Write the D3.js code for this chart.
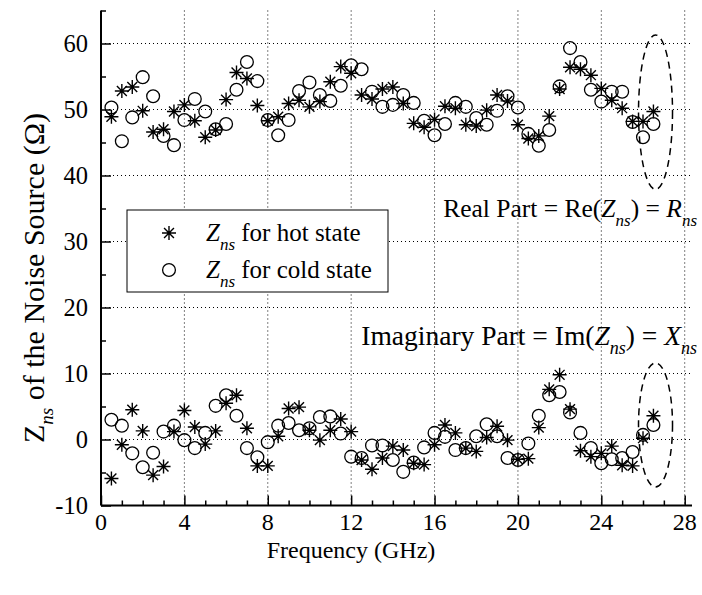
<!DOCTYPE html>
<html>
<head>
  <title>Noise Source Impedance</title>
  <style>
    body {
      margin: 0;
      background: #fff;
    }
    svg text {
      font-family: "Liberation Serif", "Times New Roman", serif;
      fill: #000;
    }
  </style>
</head>
<body>
  <svg id="chart"></svg>

  <script src="https://d3js.org/d3.v7.min.js"></script>
  <script>
    // Frequencies (GHz)
    const freqs = [
      0.5, 1, 1.5, 2, 2.5, 3, 3.5, 4, 4.5, 5, 5.5, 6, 6.5, 7, 7.5, 8, 8.5, 9,
      9.5, 10, 10.5, 11, 11.5, 12, 12.5, 13, 13.5, 14, 14.5, 15, 15.5, 16, 16.5,
      17, 17.5, 18, 18.5, 19, 19.5, 20, 20.5, 21, 21.5, 22, 22.5, 23, 23.5, 24,
      24.5, 25, 25.5, 26, 26.5
    ];

    // Real part, hot state (stars)
    const hotReal = [
      48.9, 52.8, 53.4, 49.8, 46.6, 47.0, 49.7, 50.7, 48.3, 45.8, 46.9, 51.5, 55.6,
      54.7, 50.6, 48.3, 48.9, 50.9, 51.4, 50.4, 51.2, 54.2, 56.5, 55.5, 52.2, 51.6,
      53.1, 53.4, 50.9, 47.9, 47.3, 48.5, 50.5, 50.2, 47.7, 47.5, 49.9, 52.2, 51.3,
      47.7, 45.6, 46.0, 49.0, 53.1, 56.4, 56.1, 55.2, 53.2, 51.4, 50.2, 48.2, 48.2,
      49.7
    ];

    // Real part, cold state (circles)
    const coldReal = [
      50.3, 45.2, 48.8, 54.9, 52.0, 46.0, 44.6, 48.4, 51.6, 49.7, 47.0, 47.8, 53.0,
      57.2, 54.3, 48.4, 46.1, 48.4, 52.8, 54.1, 52.2, 51.3, 53.6, 56.7, 56.1, 52.7,
      50.4, 50.7, 52.2, 51.0, 48.3, 46.1, 47.8, 51.0, 50.4, 48.7, 47.7, 49.8, 52.0,
      50.3, 46.3, 44.5, 46.9, 53.5, 59.3, 57.2, 53.0, 51.2, 52.7, 52.7, 48.1, 45.8,
      47.8
    ];

    // Imaginary part, hot state
    const hotImag = [
      -5.9, -0.8, 4.5, 1.3, -5.4, -4.1, 1.2, 4.4, 1.9, -0.7, 1.3, 5.5, 6.7, 1.7,
      -4.0, -4.0, 0.5, 4.7, 4.9, 1.4, -0.1, 1.4, 3.1, 1.2, -3.1, -4.5, -2.8, -1.0,
      -1.6, -3.6, -3.8, -0.8, 2.2, 1.0, -1.3, -1.8, 0.3, 2.0, -0.1, -3.0, -2.9, 1.8,
      7.6, 9.8, 4.6, -1.7, -2.6, -2.1, -1.0, -3.9, -4.0, 0.2, 3.6
    ];

    // Imaginary part, cold state
    const coldImag = [
      3.0, 2.1, -2.1, -4.2, -2.0, 1.2, 2.1, -0.1, -1.3, 1.0, 5.1, 6.7, 3.6, -1.3,
      -2.7, -0.4, 2.1, 2.5, 1.4, 1.7, 3.4, 3.5, 0.9, -2.6, -2.8, -0.9, -0.9, -3.1,
      -4.9, -3.5, -1.2, 1.0, 0.4, -1.6, -1.3, 0.5, 2.3, 0.5, -2.8, -3.1, -0.6, 3.6,
      6.7, 7.2, 4.1, 1.0, -1.3, -3.6, -3.0, -2.8, -1.9, 0.7, 2.2
    ];

    const xTicks = [0, 4, 8, 12, 16, 20, 24, 28];
    const yTicks = [-10, 0, 10, 20, 30, 40, 50, 60];

    // dashed ellipses around the last points: [centre freq, centre value, half height]
    const highlights = [[26.6, 49.6, 11.7], [26.6, 2.2, 9.4]];

    const width = 702;
    const height = 595;

    const svg = d3.select("#chart")
      .attr("width", width)
      .attr("height", height);

    const x = d3.scaleLinear().domain([0, 28.35]).range([101, 692]);
    const y = d3.scaleLinear().domain([-10, 65]).range([505.5, 10.5]);

    // grid
    const grid = svg.append("g")
      .attr("stroke", "#000")
      .attr("stroke-width", 1)
      .attr("stroke-dasharray", "1,3");

    grid.selectAll("line.h")
      .data(yTicks.filter((d) => d > -10))
      .join("line")
      .attr("x1", x(0)).attr("x2", x.range()[1])
      .attr("y1", (d) => y(d)).attr("y2", (d) => y(d));

    grid.selectAll("line.v")
      .data(xTicks.filter((d) => d > 0))
      .join("line")
      .attr("class", "v")
      .attr("y1", y.range()[1]).attr("y2", y(-10))
      .attr("x1", (d) => x(d)).attr("x2", (d) => x(d));

    // axes with inward ticks
    const xAxis = svg.append("g")
      .attr("transform", `translate(0,${y(-10)})`)
      .call(d3.axisBottom(x).tickValues(d3.range(0, 29, 1)).tickSize(-5).tickFormat(""));
    xAxis.selectAll(".tick line")
      .attr("y2", (d) => (d % 4 === 0 ? -10 : -5))
      .attr("stroke-width", 1.5);
    xAxis.select(".domain").attr("stroke-width", 2).attr("d", `M${x(0)},0H${x.range()[1]}`);

    svg.append("g")
      .selectAll("text")
      .data(xTicks)
      .join("text")
      .attr("x", (d) => x(d))
      .attr("y", 530)
      .attr("text-anchor", "middle")
      .attr("font-size", 24)
      .text((d) => d);

    const yAxis = svg.append("g")
      .attr("transform", `translate(${x(0)},0)`)
      .call(d3.axisLeft(y).tickValues(d3.range(-10, 66, 5)).tickSize(-5).tickFormat(""));
    yAxis.selectAll(".tick line")
      .attr("x2", (d) => (d % 10 === 0 ? 10 : 5))
      .attr("stroke-width", 1.5);
    yAxis.select(".domain").attr("stroke-width", 2).attr("d", `M0,${y(-10)}V${y(65)}`);

    svg.append("g")
      .selectAll("text")
      .data(yTicks)
      .join("text")
      .attr("x", 88)
      .attr("y", (d) => y(d) + 8)
      .attr("text-anchor", "end")
      .attr("font-size", 24.5)
      .text((d) => d);

    // axis titles
    svg.append("text")
      .attr("x", 351)
      .attr("y", 558)
      .attr("text-anchor", "middle")
      .attr("font-size", 24)
      .text("Frequency (GHz)");

    const yTitle = svg.append("text")
      .attr("transform", "translate(44,278) rotate(-90)")
      .attr("text-anchor", "middle")
      .attr("font-size", 30);
    yTitle.append("tspan").text("Z");
    yTitle.append("tspan").attr("dy", 9).attr("font-size", 19).attr("font-style", "italic").text("ns");
    yTitle.append("tspan").attr("dy", -9).text(" of the Noise Source (\u03A9)");

    // markers
    const starPath = (r) => {
      const d = r * Math.SQRT1_2;
      return `M${-r},0H${r}M0,${-r}V${r}M${-d},${-d}L${d},${d}M${-d},${d}L${d},${-d}`;
    };

    const drawStars = (vals) => {
      svg.append("g")
        .selectAll("path")
        .data(vals)
        .join("path")
        .attr("transform", (d, i) => `translate(${x(freqs[i])},${y(d)})`)
        .attr("d", starPath(7))
        .attr("stroke", "#000")
        .attr("stroke-width", 1.4)
        .attr("fill", "none");
    };

    const drawCircles = (vals) => {
      svg.append("g")
        .selectAll("circle")
        .data(vals)
        .join("circle")
        .attr("cx", (d, i) => x(freqs[i]))
        .attr("cy", (d) => y(d))
        .attr("r", 6.4)
        .attr("stroke", "#000")
        .attr("stroke-width", 1.3)
        .attr("fill", "none");
    };

    drawStars(hotReal);
    drawCircles(coldReal);
    drawStars(hotImag);
    drawCircles(coldImag);

    // dashed ellipses
    svg.append("g")
      .selectAll("ellipse")
      .data(highlights)
      .join("ellipse")
      .attr("cx", (d) => x(d[0]))
      .attr("cy", (d) => y(d[1]))
      .attr("rx", 17)
      .attr("ry", (d) => y(0) - y(d[2]))
      .attr("fill", "none")
      .attr("stroke", "#000")
      .attr("stroke-width", 1.5)
      .attr("stroke-dasharray", "7,5");

    // legend
    const legend = svg.append("g");
    legend.append("rect")
      .attr("x", 127).attr("y", 210)
      .attr("width", 261).attr("height", 82)
      .attr("fill", "#fff")
      .attr("stroke", "#000")
      .attr("stroke-width", 1);

    legend.append("path")
      .attr("transform", "translate(169,233)")
      .attr("d", starPath(7))
      .attr("stroke", "#000").attr("stroke-width", 1.4).attr("fill", "none");
    legend.append("circle")
      .attr("cx", 169).attr("cy", 270).attr("r", 6.4)
      .attr("stroke", "#000").attr("stroke-width", 1.3).attr("fill", "none");

    const subText = (sel, parts, subSize) => {
      parts.forEach(([t, style]) => {
        const ts = sel.append("tspan").text(t);
        if (style === "i") ts.attr("font-style", "italic");
        if (style === "sub") ts.attr("font-style", "italic").attr("font-size", subSize).attr("dy", 9);
        if (style === "after") ts.attr("dy", -9);
      });
    };

    subText(legend.append("text").attr("x", 206).attr("y", 241).attr("font-size", 25),
      [["Z", "i"], ["ns", "sub"], [" for hot state", "after"]], 17);
    subText(legend.append("text").attr("x", 206).attr("y", 278).attr("font-size", 25),
      [["Z", "i"], ["ns", "sub"], [" for cold state", "after"]], 17);

    // part labels
    subText(svg.append("text").attr("x", 697).attr("y", 217).attr("text-anchor", "end").attr("font-size", 25.5),
      [["Real Part = Re(", null], ["Z", "i"], ["ns", "sub"], [") = ", "after"], ["R", "i"], ["ns", "sub"]], 17);
    subText(svg.append("text").attr("x", 697).attr("y", 345).attr("text-anchor", "end").attr("font-size", 27.5),
      [["Imaginary Part = Im(", null], ["Z", "i"], ["ns", "sub"], [") = ", "after"], ["X", "i"], ["ns", "sub"]], 18);
  </script>
</body>
</html>
